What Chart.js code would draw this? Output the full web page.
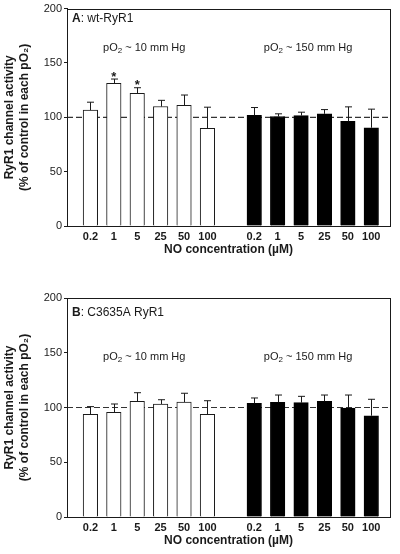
<!DOCTYPE html>
<html>
<head>
<meta charset="utf-8">
<script src="https://cdn.jsdelivr.net/npm/chart.js@4.4.0/dist/chart.umd.min.js"></script>
<style>
  html, body { margin: 0; padding: 0; background: #fff; }
  body { width: 400px; height: 554px; position: relative; overflow: hidden; }
  canvas { position: absolute; left: 0; }
  #cA { top: 0; }
  #cB { top: 280px; }
</style>
</head>
<body>
<canvas id="cA" width="400" height="258"></canvas>
<canvas id="cB" width="400" height="269"></canvas>
<script>
// ---- data ----
const concentrations = ['0.2', '1', '5', '25', '50', '100'];
const yTickValues = [0, 50, 100, 150, 200];

// Panel A: wt-RyR1
const aLowO2 = [106.6, 131.2, 122.1, 109.9, 111.0, 89.8];
const aLowO2Err = [7.3, 4.0, 5.1, 5.7, 9.5, 19.5];
const aHighO2 = [101.8, 100.7, 101.6, 103.2, 96.2, 90.4];
const aHighO2Err = [7.2, 2.5, 3.1, 3.9, 13.4, 17.1];
const aSignificant = [false, true, true, false, false, false];

// Panel B: C3635A RyR1
const bLowO2 = [93.8, 95.6, 105.6, 103.2, 105.0, 93.8];
const bLowO2Err = [7.0, 7.6, 7.9, 3.9, 8.0, 12.4];
const bHighO2 = [103.8, 104.7, 104.4, 105.6, 99.5, 92.5];
const bHighO2Err = [4.9, 6.7, 5.8, 5.8, 11.9, 15.0];
const bSignificant = [false, false, false, false, false, false];

const lowLabel = ['pO', '2', ' ~ 10 mm Hg'];
const highLabel = ['pO', '2', ' ~ 150 mm Hg'];
const controlLevel = 100;

const FONT = "'Liberation Sans', Arial, Helvetica, sans-serif";
const INK = '#1a1a1a';

// slot positions on the x axis (one empty slot between groups)
const lowPos = concentrations.map((c, i) => i + 1);
const highPos = concentrations.map((c, i) => i + 8);
const tickPos = lowPos.concat(highPos);
const tickText = concentrations.concat(concentrations);

function drawPO2(ctx, parts, cx, cy) {
  ctx.save();
  ctx.textBaseline = 'middle';
  ctx.fillStyle = INK;
  const f1 = '11px ' + FONT, f2 = '8px ' + FONT;
  ctx.font = f1; const w1 = ctx.measureText(parts[0]).width;
  ctx.font = f2; const w2 = ctx.measureText(parts[1]).width;
  ctx.font = f1; const w3 = ctx.measureText(parts[2]).width;
  let x = cx - (w1 + w2 + w3) / 2;
  ctx.textAlign = 'left';
  ctx.font = f1; ctx.fillText(parts[0], x, cy); x += w1;
  ctx.font = f2; ctx.fillText(parts[1], x, cy + 3); x += w2;
  ctx.font = f1; ctx.fillText(parts[2], x, cy);
  ctx.restore();
}

function makeChart(id, cfg) {
  const errPlugin = {
    id: 'extras' + id,
    beforeDatasetsDraw(chart) {
      const { ctx, chartArea, scales } = chart;
      const y = scales.y.getPixelForValue(controlLevel);
      ctx.save();
      ctx.strokeStyle = '#333';
      ctx.lineWidth = 1.2;
      ctx.setLineDash([6, 3]);
      ctx.beginPath();
      ctx.moveTo(chartArea.left, y);
      ctx.lineTo(chartArea.right, y);
      ctx.stroke();
      ctx.restore();
    },
    afterDatasetsDraw(chart) {
      const { ctx, scales } = chart;
      const errs = [cfg.lowErr, cfg.highErr];
      const vals = [cfg.low, cfg.high];
      ctx.save();
      ctx.strokeStyle = INK;
      ctx.lineWidth = 1;
      chart.data.datasets.forEach((ds, di) => {
        const meta = chart.getDatasetMeta(di);
        meta.data.forEach((el, i) => {
          const top = scales.y.getPixelForValue(vals[di][i] + errs[di][i]);
          const x = Math.round(el.x) + 0.5;
          ctx.beginPath();
          ctx.moveTo(x, el.y);
          ctx.lineTo(x, top);
          ctx.moveTo(x - 3.5, top);
          ctx.lineTo(x + 3.5, top);
          ctx.stroke();
          if (di === 0 && cfg.sig[i]) {
            ctx.fillStyle = INK;
            ctx.font = 'bold 13px ' + FONT;
            ctx.textAlign = 'center';
            ctx.textBaseline = 'alphabetic';
            ctx.fillText('*', el.x, top + 1.5);
          }
        });
      });
      ctx.restore();
    },
    afterDraw(chart) {
      const { ctx, chartArea, scales } = chart;
      ctx.save();
      ctx.strokeStyle = INK;
      ctx.lineWidth = 1;
      ctx.strokeRect(Math.round(chartArea.left) + 0.5, Math.round(chartArea.top) + 0.5,
        Math.round(chartArea.right - chartArea.left), Math.round(chartArea.bottom - chartArea.top));
      // panel label
      ctx.fillStyle = INK;
      ctx.textBaseline = 'middle';
      ctx.textAlign = 'left';
      ctx.font = 'bold 12px ' + FONT;
      const lx = chartArea.left + 5, ly = chartArea.top + cfg.labelDy;
      ctx.fillText(cfg.panel, lx, ly);
      const pw = ctx.measureText(cfg.panel).width;
      ctx.font = '12px ' + FONT;
      ctx.fillText(cfg.panelRest, lx + pw, ly);
      // condition labels
      drawPO2(ctx, lowLabel, scales.x.getPixelForValue(3.3), scales.y.getPixelForValue(cfg.condY));
      drawPO2(ctx, highLabel, scales.x.getPixelForValue(10.3), scales.y.getPixelForValue(cfg.condY));
      ctx.restore();
    }
  };

  return new Chart(document.getElementById(id), {
    type: 'bar',
    data: {
      datasets: [
        {
          label: 'pO2 ~ 10 mm Hg',
          data: cfg.low.map((v, i) => ({ x: lowPos[i], y: v })),
          backgroundColor: '#ffffff',
          borderColor: INK,
          borderWidth: 1,
          barThickness: 14.5,
          grouped: false
        },
        {
          label: 'pO2 ~ 150 mm Hg',
          data: cfg.high.map((v, i) => ({ x: highPos[i], y: v })),
          backgroundColor: '#000000',
          borderColor: '#000000',
          borderWidth: 1,
          barThickness: 14.5,
          grouped: false
        }
      ]
    },
    options: {
      responsive: false,
      animation: false,
      devicePixelRatio: 1,
      layout: { padding: { top: cfg.padTop, right: 10, left: 0, bottom: 0 } },
      plugins: { legend: { display: false }, tooltip: { enabled: false } },
      scales: {
        x: {
          type: 'linear',
          min: 0,
          max: 13.8,
          offset: false,
          grid: { display: true, drawOnChartArea: false, drawTicks: false, offset: false },
          border: { display: true, color: INK, width: 1 },
          afterBuildTicks(scale) { scale.ticks = tickPos.map(v => ({ value: v })); },
          afterFit(scale) { scale.height = 32; },
          ticks: {
            autoSkip: false,
            maxRotation: 0,
            padding: 4,
            color: INK,
            font: { family: FONT, size: 11, weight: 'bold' },
            callback(value) { const k = tickPos.indexOf(value); return k >= 0 ? tickText[k] : ''; }
          },
          title: {
            display: true,
            text: 'NO concentration (\u00b5M)',
            color: INK,
            font: { family: FONT, size: 12, weight: 'bold', lineHeight: 1.2 },
            padding: { top: 0, bottom: 1 }
          }
        },
        y: {
          min: 0,
          max: 200,
          grid: { display: true, drawOnChartArea: false, drawTicks: true, tickLength: 3, color: INK },
          border: { display: true, color: INK, width: 1 },
          afterBuildTicks(scale) { scale.ticks = yTickValues.map(v => ({ value: v })); },
          afterFit(scale) { scale.width = 67; },
          ticks: {
            padding: 2,
            color: INK,
            font: { family: FONT, size: 11 }
          },
          title: {
            display: true,
            text: ['RyR1 channel activity', '(% of control in each pO\u2082)'],
            color: INK,
            font: { family: FONT, size: 12, weight: 'bold', lineHeight: 1.25 },
            padding: { top: 2.5, bottom: 0 }
          }
        }
      }
    },
    plugins: [errPlugin]
  });
}

makeChart('cA', {
  low: aLowO2, lowErr: aLowO2Err, high: aHighO2, highErr: aHighO2Err, sig: aSignificant,
  panel: 'A', panelRest: ': wt-RyR1', padTop: 7, labelDy: 10, condY: 163.5
});
makeChart('cB', {
  low: bLowO2, lowErr: bLowO2Err, high: bHighO2, highErr: bHighO2Err, sig: bSignificant,
  panel: 'B', panelRest: ': C3635A RyR1', padTop: 18, labelDy: 15, condY: 146
});
</script>
</body>
</html>
